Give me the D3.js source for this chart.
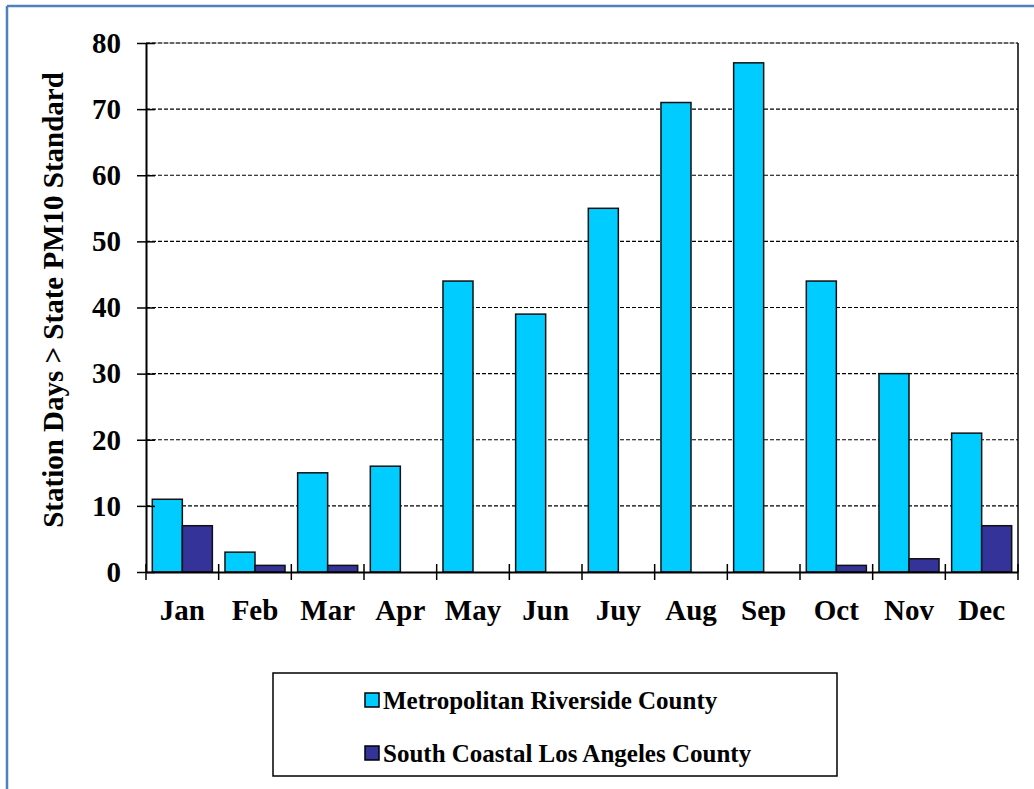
<!DOCTYPE html>
<html>
<head>
<meta charset="utf-8">
<script src="https://cdn.jsdelivr.net/npm/d3@7.9.0/dist/d3.min.js"></script>
<style>
  body { margin: 0; background: #fff; }
  svg { display: block; }
  svg text { font-family: "Liberation Serif" !important; font-weight: bold; }
</style>
</head>
<body>
<svg id="chart" width="1034" height="789"></svg>
<script>
const months = ["Jan", "Feb", "Mar", "Apr", "May", "Jun", "Juy", "Aug", "Sep", "Oct", "Nov", "Dec"];
const seriesNames = ["Metropolitan Riverside County", "South Coastal Los Angeles County"];
const riverside = [11, 3, 15, 16, 44, 39, 55, 71, 77, 44, 30, 21];
const losAngeles = [7, 1, 1, 0, 0, 0, 0, 0, 0, 1, 2, 7];
const yTicks = [0, 10, 20, 30, 40, 50, 60, 70, 80];
const colors = ["#00CCFF", "#333399"];

const W = 1034, H = 789;
const plotLeft = 146, plotRight = 1018, plotTop = 43, plotBottom = 572;
const serif = "Liberation Serif";

const svg = d3.select("#chart");

// outer frame
svg.append("line").attr("x1", 7).attr("x2", W).attr("y1", 6).attr("y2", 6)
  .attr("stroke", "#4F81BD").attr("stroke-width", 2.5);
svg.append("line").attr("x1", 7).attr("x2", 7).attr("y1", 6).attr("y2", H)
  .attr("stroke", "#4F81BD").attr("stroke-width", 2.5);

const x = d3.scaleBand().domain(months).range([plotLeft, plotRight]).padding(0);
const xs = d3.scaleBand().domain(seriesNames).range([0, x.bandwidth()]).paddingInner(0).paddingOuter(0.21);
const y = d3.scaleLinear().domain([0, 80]).range([plotBottom, plotTop]);

// plot frame
svg.append("line").attr("x1", plotLeft).attr("x2", plotRight).attr("y1", plotTop).attr("y2", plotTop)
  .attr("stroke", "#999").attr("stroke-width", 1);
svg.append("line").attr("x1", plotRight).attr("x2", plotRight).attr("y1", plotTop).attr("y2", plotBottom)
  .attr("stroke", "#000").attr("stroke-width", 1.5);

// gridlines
svg.append("g").selectAll("line")
  .data(yTicks.filter(d => d > 0))
  .join("line")
  .attr("x1", plotLeft).attr("x2", plotRight)
  .attr("y1", d => y(d)).attr("y2", d => y(d))
  .attr("stroke", "#000").attr("stroke-width", 1.2)
  .attr("stroke-dasharray", "4,2");

// bars
const data = months.map((m, i) => ({month: m, values: [riverside[i], losAngeles[i]]}));
const groups = svg.append("g").selectAll("g")
  .data(data)
  .join("g")
  .attr("transform", d => `translate(${x(d.month)},0)`);

groups.selectAll("rect")
  .data(d => d.values.map((v, j) => ({name: seriesNames[j], value: v, j})))
  .join("rect")
  .attr("x", d => xs(d.name))
  .attr("width", xs.bandwidth())
  .attr("y", d => y(d.value))
  .attr("height", d => y(0) - y(d.value))
  .attr("fill", d => colors[d.j])
  .attr("stroke", d => d.value > 0 ? "#111" : "none")
  .attr("stroke-width", 1.5);

// y axis
const yAxis = svg.append("g").attr("transform", `translate(${plotLeft},0)`)
  .call(d3.axisLeft(y).tickValues(yTicks).tickSize(0).tickPadding(25));
yAxis.attr("font-family", serif).attr("font-size", 29).attr("font-weight", "bold");
yAxis.select(".domain").attr("stroke", "#000").attr("stroke-width", 2);
yAxis.selectAll(".tick line").clone()
  .attr("x1", -9).attr("x2", 9).attr("stroke", "#000").attr("stroke-width", 1.5);
yAxis.selectAll("text").attr("fill", "#000").attr("font-family", serif);

// x axis
const xAxis = svg.append("g").attr("transform", `translate(0,${plotBottom})`)
  .call(d3.axisBottom(x).tickSize(0).tickPadding(27));
xAxis.attr("font-family", serif).attr("font-size", 29).attr("font-weight", "bold");
xAxis.select(".domain").attr("stroke", "#000").attr("stroke-width", 2);
xAxis.selectAll("text").attr("fill", "#000").attr("font-family", serif);
svg.append("g").selectAll("line")
  .data(months.concat(["end"]))
  .join("line")
  .attr("x1", (d, i) => i < months.length ? x(d) : plotRight)
  .attr("x2", (d, i) => i < months.length ? x(d) : plotRight)
  .attr("y1", plotBottom - 8).attr("y2", plotBottom + 8)
  .attr("stroke", "#000").attr("stroke-width", 1.5);

// y title
svg.append("text")
  .attr("transform", "translate(63,300) rotate(-90)")
  .attr("text-anchor", "middle")
  .attr("font-family", serif)
  .attr("font-size", 29)
  .attr("font-weight", "bold")
  .text("Station Days > State PM10 Standard");

// legend
const legend = svg.append("g");
legend.append("rect").attr("x", 273).attr("y", 673).attr("width", 564).attr("height", 103)
  .attr("fill", "#fff").attr("stroke", "#000").attr("stroke-width", 1.5);
seriesNames.forEach((name, i) => {
  const ly = 700 + i * 53;
  legend.append("rect").attr("x", 365).attr("y", ly - 7).attr("width", 14).attr("height", 14)
    .attr("fill", colors[i]).attr("stroke", "#000").attr("stroke-width", 1.5);
  legend.append("text").attr("x", 383).attr("y", ly + 9)
    .attr("font-family", serif)
    .attr("font-size", 25).attr("font-weight", "bold")
    .text(name);
});
</script>
</body>
</html>
